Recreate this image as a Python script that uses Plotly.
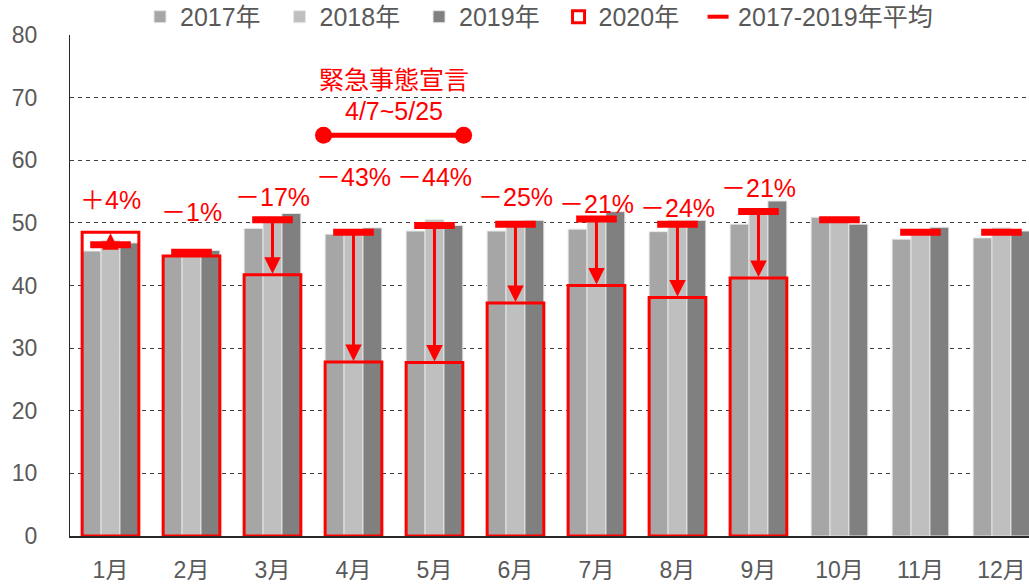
import plotly.graph_objects as go

months = ["1月", "2月", "3月", "4月", "5月", "6月", "7月", "8月", "9月", "10月", "11月", "12月"]
v2017 = [45.5, 44.7, 49.1, 48.2, 48.7, 48.7, 49.0, 48.6, 49.8, 50.9, 47.4, 47.6]
v2018 = [47.2, 45.6, 50.9, 48.1, 50.5, 50.3, 51.0, 50.4, 52.1, 50.8, 48.8, 49.2]
v2019 = [46.8, 45.6, 51.5, 49.2, 49.6, 50.4, 51.8, 50.4, 53.5, 49.8, 49.3, 48.7]
v2020 = [48.5, 44.7, 41.7, 27.8, 27.7, 37.2, 40.0, 38.1, 41.2]
avg = [46.5, 45.3, 50.5, 48.5, 49.6, 49.8, 50.6, 49.8, 51.8, 50.5, 48.5, 48.5]
change_labels = ["＋4%", "－1%", "－17%", "－43%", "－44%", "－25%", "－21%", "－24%", "－21%"]
label_y = [53.6, 51.7, 54.2, 57.3, 57.3, 54.2, 53.0, 52.4, 55.6]
emergency_title = "緊急事態宣言"
emergency_period = "4/7~5/25"
emergency_x = [2.63, 4.36]
emergency_y = [64, 64]

RED = "#FF0000"
GRAYTXT = "#595959"
FONT = "Liberation Sans, Arial, Noto Sans CJK JP, sans-serif"
PAD = "\u00a0\u00a0"

x = list(range(len(months)))
bw = 0.7 / 3

fig = go.Figure()
for name, vals, col, off in [("2017年", v2017, "#A6A6A6", -0.35),
                             ("2018年", v2018, "#BFBFBF", -0.35 + bw),
                             ("2019年", v2019, "#808080", -0.35 + 2 * bw)]:
    fig.add_trace(go.Bar(x=x, y=vals, name=name + PAD, width=bw, offset=off,
                         marker=dict(color=col, line=dict(color="#E6E6E6", width=1))))

fig.add_trace(go.Bar(x=x[:len(v2020)], y=v2020, name="2020年" + PAD, width=0.7, offset=-0.35,
                     marker=dict(color="rgba(0,0,0,0)", line=dict(color=RED, width=3))))

fig.add_trace(go.Scatter(x=x, y=avg, mode="markers", name="2017-2019年平均", showlegend=False,
                         legendgroup="avg",
                         marker=dict(symbol="line-ew", size=29, line=dict(color=RED, width=7), color=RED)))
# legend entry for the average marker (smaller symbol, as in the reference legend)
fig.add_trace(go.Scatter(x=[None], y=[None], mode="markers", name="2017-2019年平均", legendgroup="avg",
                         marker=dict(symbol="line-ew", size=15, line=dict(color=RED, width=4), color=RED)))

fig.add_trace(go.Scatter(x=emergency_x, y=emergency_y, mode="lines+markers", showlegend=False,
                         line=dict(color=RED, width=5), marker=dict(color=RED, size=17)))

annotations = []
for i, v in enumerate(v2020):
    annotations.append(dict(x=i, y=v, ax=i, ay=avg[i], xref="x", yref="y", axref="x", ayref="y",
                            showarrow=True, arrowhead=2, arrowsize=1.1, arrowwidth=3, arrowcolor=RED,
                            text="", standoff=1))
    annotations.append(dict(x=i, y=label_y[i], xref="x", yref="y", text=change_labels[i], showarrow=False,
                            font=dict(size=25, color=RED, family=FONT)))

annotations.append(dict(x=sum(emergency_x) / 2, y=73.1, xref="x", yref="y", text=emergency_title, showarrow=False,
                        font=dict(size=25, color=RED, family="Noto Sans CJK JP, sans-serif")))
annotations.append(dict(x=sum(emergency_x) / 2, y=67.9, xref="x", yref="y", text=emergency_period, showarrow=False,
                        font=dict(size=25, color=RED, family=FONT)))

fig.update_layout(
    width=1029, height=584,
    margin=dict(l=70, r=0, t=35, b=48, autoexpand=False),
    plot_bgcolor="white", paper_bgcolor="white",
    barmode="overlay",
    font=dict(family=FONT, color=GRAYTXT, size=20),
    legend=dict(orientation="h", x=0.073, y=1.036, yanchor="middle", xanchor="left",
                font=dict(size=25, color=GRAYTXT, family=FONT), itemwidth=30,
                bgcolor="rgba(0,0,0,0)"),
    annotations=annotations,
    xaxis=dict(range=[-0.5, 11.34], tickmode="array", tickvals=x, ticktext=months,
               showgrid=False, showline=True, linecolor="#262626", linewidth=2,
               ticks="", tickfont=dict(size=23, color=GRAYTXT, family=FONT), ticklabelstandoff=12,
               zeroline=False),
    yaxis=dict(range=[0, 80], dtick=10, showgrid=True, gridcolor="#404040", griddash="4px,4px", gridwidth=1,
               showline=True, linecolor="#262626", linewidth=1, ticks="",
               tickfont=dict(size=23, color=GRAYTXT, family=FONT), ticklabelstandoff=27,
               zeroline=False),
)

fig.write_html("out.html", config={"displayModeBar": False},
               post_script="document.body.style.margin='0';document.body.style.overflow='hidden';")
